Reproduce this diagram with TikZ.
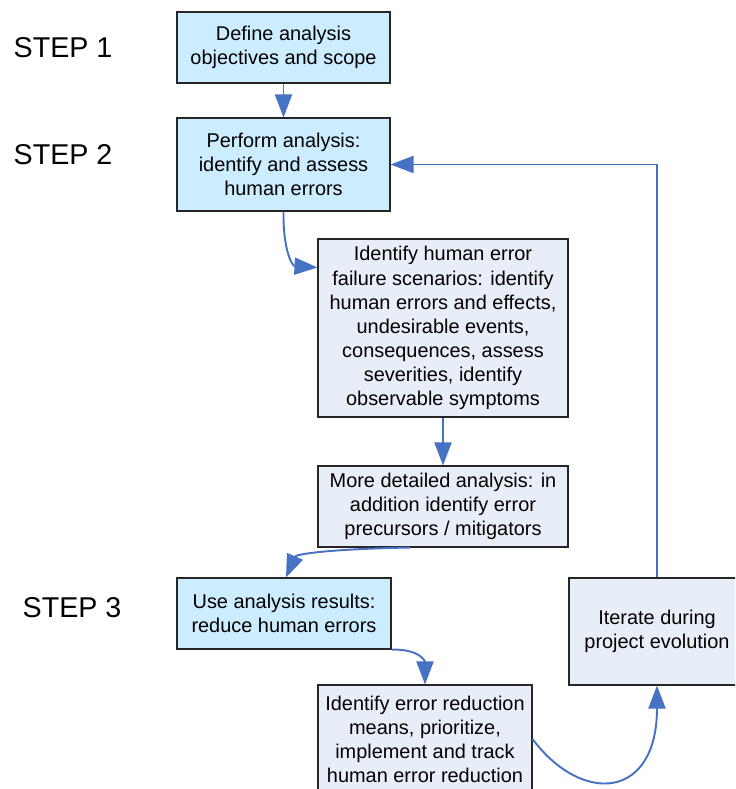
\documentclass[tikz,border=0pt]{standalone}
\usepackage{fontspec}
\setmainfont{Liberation Sans}
\usetikzlibrary{arrows.meta}
\definecolor{stepfill}{RGB}{204,236,255}
\definecolor{subfill}{RGB}{232,238,248}
\definecolor{linkblue}{RGB}{70,114,196}
\tikzset{
	stepbox/.style={draw=black!85,fill=stepfill,line width=.6pt,align=center,inner sep=0pt,font=\fontsize{11.34}{13.7}\selectfont},
	subbox/.style={stepbox,fill=subfill},
	link/.style={draw=linkblue,line width=1.1pt,-{Triangle[length=.46cm,width=.34cm]}},
	steplabel/.style={font=\fontsize{16.3}{19}\selectfont}
}
\begin{document}
\begin{tikzpicture}[x=.02cm,y=-.02cm]
		\clip (0,0) rectangle (735,789);
		\node[steplabel] (step1) at (63,48) {STEP 1};
		\node[steplabel] (step2) at (63,155) {STEP 2};
		\node[steplabel] (step3) at (72,608) {STEP 3};
		
		\node[stepbox,minimum width=4.26cm,minimum height=1.42cm] (define) at (283.5,47.5) {Define analysis\\objectives and scope};
		\node[stepbox,minimum width=4.26cm,minimum height=1.86cm] (perform) at (283.5,164.5) {Perform analysis:\\identify and assess\\human errors};
		\node[subbox,minimum width=5cm,minimum height=3.56cm] (scenarios) at (443,328) {Identify human error\\failure scenarios: identify\\human errors and effects,\\undesirable events,\\consequences, assess\\severities, identify\\observable symptoms};
		\node[subbox,minimum width=5cm,minimum height=1.62cm] (detailed) at (443,506.5) {More detailed analysis: in\\addition identify error\\precursors / mitigators};
		\node[stepbox,minimum width=4.28cm,minimum height=1.42cm] (reduce) at (284,613.5) {Use analysis results:\\reduce human errors};
		\node[subbox,minimum width=4.28cm,minimum height=2.16cm] (means) at (425,739) {Identify error reduction\\means, prioritize,\\implement and track\\human error reduction};
		\node[subbox,minimum width=3.52cm,minimum height=2.14cm] (iterate) at (657,631.5) {Iterate during\\project evolution};
		
		\draw[link] (define) -- (perform);
		\draw[link] (perform.south) .. controls (283,250) and (292,266) .. ([yshift=-.58cm]scenarios.north west);
		\draw[link] (scenarios) -- (detailed);
		\draw[link] ([xshift=-.66cm]detailed.south) .. controls (330,549) and (296,554) .. ([xshift=.04cm]reduce.north);
		\draw[link] (reduce.south east) .. controls (418,649) and (425,660) .. (means.north);
		\draw[link] (means.east) .. controls (582,805) and (657,800) .. (iterate.south);
		\draw[link] (iterate.north) |- (perform.east);
\end{tikzpicture}
\end{document}
